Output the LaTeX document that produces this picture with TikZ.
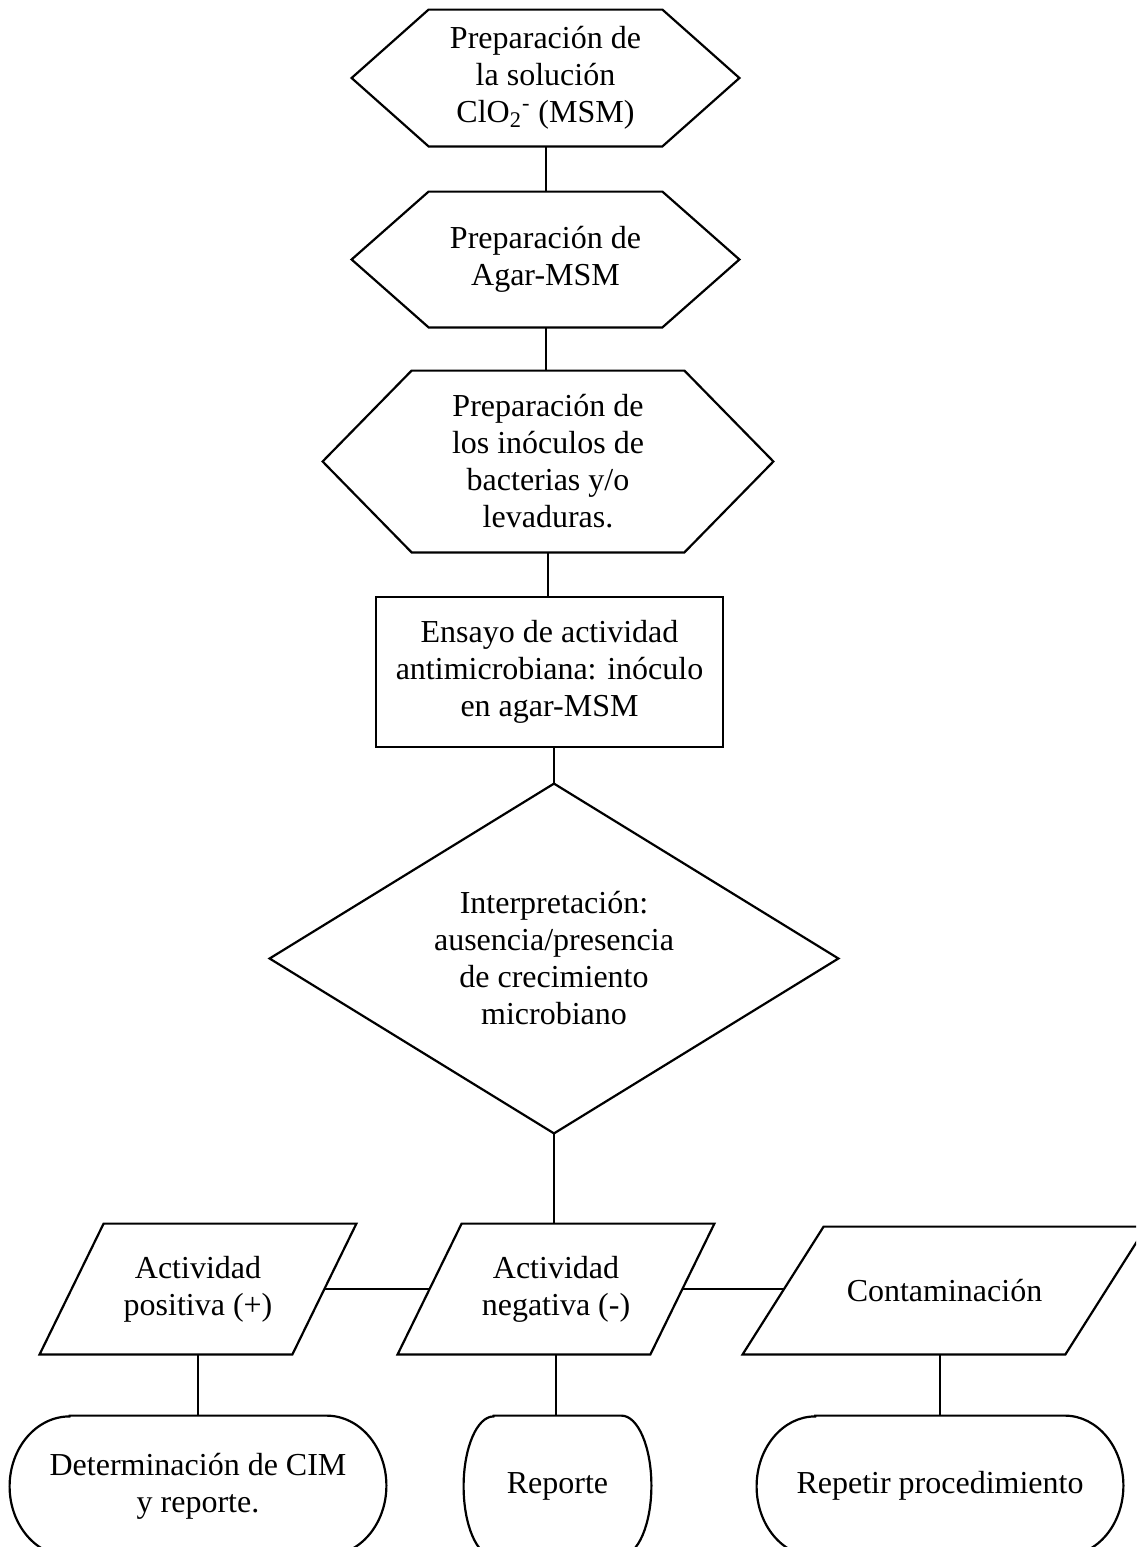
\documentclass[tikz,border=0pt]{standalone}
\usepackage{fontspec}
\setmainfont{Liberation Serif}
\usetikzlibrary{calc}

% outlines drawn around plain rectangular nodes, using their anchors
\newcommand{\hexoutline}[2]{%
  \draw[outline] (#1.west) -- ([xshift=#2]#1.north west) -- ([xshift=-#2]#1.north east)
    -- (#1.east) -- ([xshift=-#2]#1.south east) -- ([xshift=#2]#1.south west) -- cycle;}
\newcommand{\slantoutline}[2]{%
  \draw[outline] ([xshift=#2]#1.north west) -- (#1.north east)
    -- ([xshift=-#2]#1.south east) -- (#1.south west) -- cycle;}
\newcommand{\termoutline}[3]{%
  \draw[outline] ([xshift=#2]#1.north west) -- ([xshift=-#2]#1.north east)
    arc[start angle=90,end angle=-90,x radius=#2,y radius=#3]
    -- ([xshift=#2]#1.south west)
    arc[start angle=270,end angle=90,x radius=#2,y radius=#3] -- cycle;}

\begin{document}
\begin{tikzpicture}[x=0.5pt,y=-0.5pt,
  outline/.style={draw=black,line width=1.1pt,line join=miter},
  link/.style={draw=black,line width=1pt},
  blk/.style={inner sep=0pt,align=center,font=\fontsize{16}{18.5}\selectfont}]
\useasboundingbox (0,0) rectangle (1136,1547);
\clip (0,0) rectangle (1136,1547);

% preparation steps
\node[blk,minimum width=193.5pt,minimum height=68pt] (h1) at (545.5,78)
  {Preparación de\\la solución\\ClO\textsubscript{2}\textsuperscript{-} (MSM)};
\node[blk,minimum width=193.5pt,minimum height=67.5pt] (h2) at (545.5,259.5)
  {Preparación de\\Agar-MSM};
\node[blk,minimum width=225pt,minimum height=90.5pt] (h3) at (548,461.5)
  {Preparación de\\los inóculos de\\bacterias y/o\\levaduras.};
\hexoutline{h1}{38.5pt}
\hexoutline{h2}{38.5pt}
\hexoutline{h3}{44.5pt}

% assay
\node[blk,outline,minimum width=173.5pt,minimum height=75pt] (ens) at (549.5,672)
  {Ensayo de actividad\\antimicrobiana: inóculo\\en agar-MSM};

% decision
\node[blk,minimum width=284pt,minimum height=174.5pt] (dec) at (554,958.5)
  {Interpretación:\\ausencia/presencia\\de crecimiento\\microbiano};
\draw[outline] (dec.north) -- (dec.east) -- (dec.south) -- (dec.west) -- cycle;

% outcomes
\node[blk,minimum width=158pt,minimum height=65pt] (pos) at (198,1289)
  {Actividad\\positiva (+)};
\node[blk,minimum width=158pt,minimum height=65pt] (neg) at (556,1289)
  {Actividad\\negativa (-)};
\node[blk,minimum width=201.5pt,minimum height=63.5pt] (con) at (944.5,1290.5)
  {Contaminación};
\slantoutline{pos}{32pt}
\slantoutline{neg}{32pt}
\slantoutline{con}{40.5pt}

% final actions
\node[blk,minimum width=188pt,minimum height=70pt] (cim) at (198,1486)
  {Determinación de CIM\\y reporte.};
\node[blk,minimum width=93.5pt,minimum height=70pt] (rep) at (557.5,1486)
  {Reporte};
\node[blk,minimum width=183pt,minimum height=70pt] (rpt) at (940,1486)
  {Repetir procedimiento};
\termoutline{cim}{30pt}{35pt}
\termoutline{rep}{15pt}{35pt}
\termoutline{rpt}{29.3pt}{35pt}

% connectors
\draw[link] (h1.south) -- (h2.north);
\draw[link] (h2.south) -- (h2.south |- h3.north);
\draw[link] (h3.south) -- (h3.south |- ens.north);
\draw[link] (dec.north |- ens.south) -- (dec.north);
\draw[link] (dec.south) -- (dec.south |- neg.north);
\coordinate (posr) at ([xshift=-16pt]pos.east);
\coordinate (negl) at ([xshift=16pt]neg.west);
\coordinate (negr) at ([xshift=-16pt]neg.east);
\coordinate (conl) at ([xshift=20.25pt]con.west);
\draw[link] (posr) -- (negl);
\draw[link] (negr) -- (negr -| conl);
\draw[link] (pos.south) -- (pos.south |- cim.north);
\draw[link] (neg.south) -- (neg.south |- rep.north);
\draw[link] (rpt.north |- con.south) -- (rpt.north);
\end{tikzpicture}
\end{document}
